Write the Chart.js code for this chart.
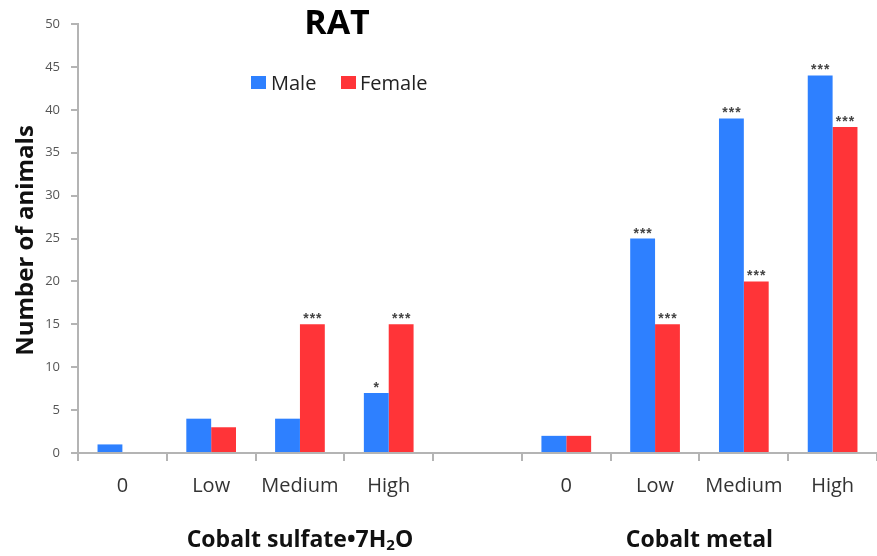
<!DOCTYPE html>
<html>
<head>
<meta charset="utf-8">
<script src="https://cdn.jsdelivr.net/npm/chart.js@4/dist/chart.umd.min.js"></script>
<style>
  html, body { margin: 0; padding: 0; background: #fff; }
  #wrap { width: 877px; height: 556px; }
</style>
</head>
<body>
<div id="wrap"><canvas id="myChart"></canvas></div>
<script>
const categories = ['0', 'Low', 'Medium', 'High', '', '0', 'Low', 'Medium', 'High']
const maleValues = [1, 4, 4, 7, null, 2, 25, 39, 44]
const femaleValues = [0, 3, 15, 15, null, 2, 15, 20, 38]
const maleStars = ['', '', '', '*', '', '', '***', '***', '***']
const femaleStars = ['', '', '***', '***', '', '', '***', '***', '***']
const yTicks = [0, 5, 10, 15, 20, 25, 30, 35, 40, 45, 50]

const blue = 'rgb(46,128,255)'
const red = 'rgb(255,52,56)'
const axisGray = '#b4b4b4'
const font = '"Open Sans", "Liberation Sans", sans-serif'

// text that Chart.js has no slot for: title, legend, stars, group names, y title
const extras = {
  id: 'extras',
  afterDatasetsDraw(chart) {
    const ctx = chart.ctx
    const x = chart.scales.x
    const area = chart.chartArea
    ctx.save()

    // stars over the bars
    ctx.fillStyle = '#444'
    ctx.font = 'bold 14px "Liberation Sans", sans-serif'
    ctx.letterSpacing = '1px'
    ctx.textAlign = 'center'
    ctx.textBaseline = 'alphabetic'
    const stars = [maleStars, femaleStars]
    chart.data.datasets.forEach((ds, i) => {
      chart.getDatasetMeta(i).data.forEach((bar, j) => {
        if (stars[i][j]) ctx.fillText(stars[i][j], bar.x + 0.5, bar.y - 1)
      })
    })
    ctx.letterSpacing = '0px'

    // title
    ctx.fillStyle = '#000'
    ctx.font = 'bold 34px ' + font
    ctx.textBaseline = 'middle'
    ctx.fillText('RAT', 337, 24)

    // legend
    ctx.font = '20px ' + font
    ctx.textAlign = 'left'
    ctx.fillStyle = blue
    ctx.fillRect(251, 76, 15, 13)
    ctx.fillStyle = red
    ctx.fillRect(341, 76, 15, 13)
    ctx.fillStyle = '#222'
    ctx.fillText('Male', 271, 84)
    ctx.fillText('Female', 360, 84)

    // group names under the categories
    ctx.fillStyle = '#111'
    ctx.textAlign = 'left'
    const g1 = x.getPixelForValue(2)
    const parts = [['Cobalt sulfate\u20227H', 23, 0], ['2', 15, 6], ['O', 23, 0]]
    let w = 0
    parts.forEach(p => { ctx.font = 'bold ' + p[1] + 'px ' + font; w += ctx.measureText(p[0]).width })
    let px = g1 - w / 2
    parts.forEach(p => {
      ctx.font = 'bold ' + p[1] + 'px ' + font
      ctx.fillText(p[0], px, 540 + p[2])
      px += ctx.measureText(p[0]).width
    })
    ctx.textAlign = 'center'
    ctx.font = 'bold 23px ' + font
    const g2 = (x.getPixelForValue(6) + x.getPixelForValue(7)) / 2
    ctx.fillText('Cobalt metal', g2, 540)

    // y axis title
    ctx.translate(33, (area.top + area.bottom) / 2 + 2)
    ctx.rotate(-Math.PI / 2)
    ctx.textBaseline = 'alphabetic'
    ctx.font = 'bold 24px ' + font
    ctx.fillText('Number of animals', 0, 0)
    ctx.restore()
  }
}

new Chart(document.getElementById('myChart'), {
  type: 'bar',
  data: {
    labels: categories,
    datasets: [
      { label: 'Male', data: maleValues, backgroundColor: blue },
      { label: 'Female', data: femaleValues, backgroundColor: red }
    ]
  },
  options: {
    responsive: true,
    maintainAspectRatio: false,
    animation: false,
    categoryPercentage: 0.56,
    barPercentage: 1,
    layout: { padding: { top: 24, right: 0, left: 0, bottom: 0 } },
    plugins: {
      legend: { display: false },
      title: { display: false },
      tooltip: { enabled: false }
    },
    scales: {
      x: {
        afterFit(scale) { scale.height = 103 },
        grid: { display: true, drawOnChartArea: false, tickLength: 8, color: axisGray, lineWidth: 2 },
        border: { color: axisGray, width: 2 },
        ticks: { color: '#333', font: { family: font, size: 20 }, padding: 13, maxRotation: 0 }
      },
      y: {
        min: 0,
        max: 50,
        afterFit(scale) { scale.width = 78 },
        afterBuildTicks(scale) { scale.ticks = yTicks.map(v => ({ value: v })) },
        grid: { display: true, drawOnChartArea: false, tickLength: 7, color: axisGray, lineWidth: 2 },
        border: { color: axisGray, width: 2 },
        ticks: { color: '#555', font: { family: font, size: 13 }, padding: 11 }
      }
    }
  },
  plugins: [extras]
})
</script>
</body>
</html>
